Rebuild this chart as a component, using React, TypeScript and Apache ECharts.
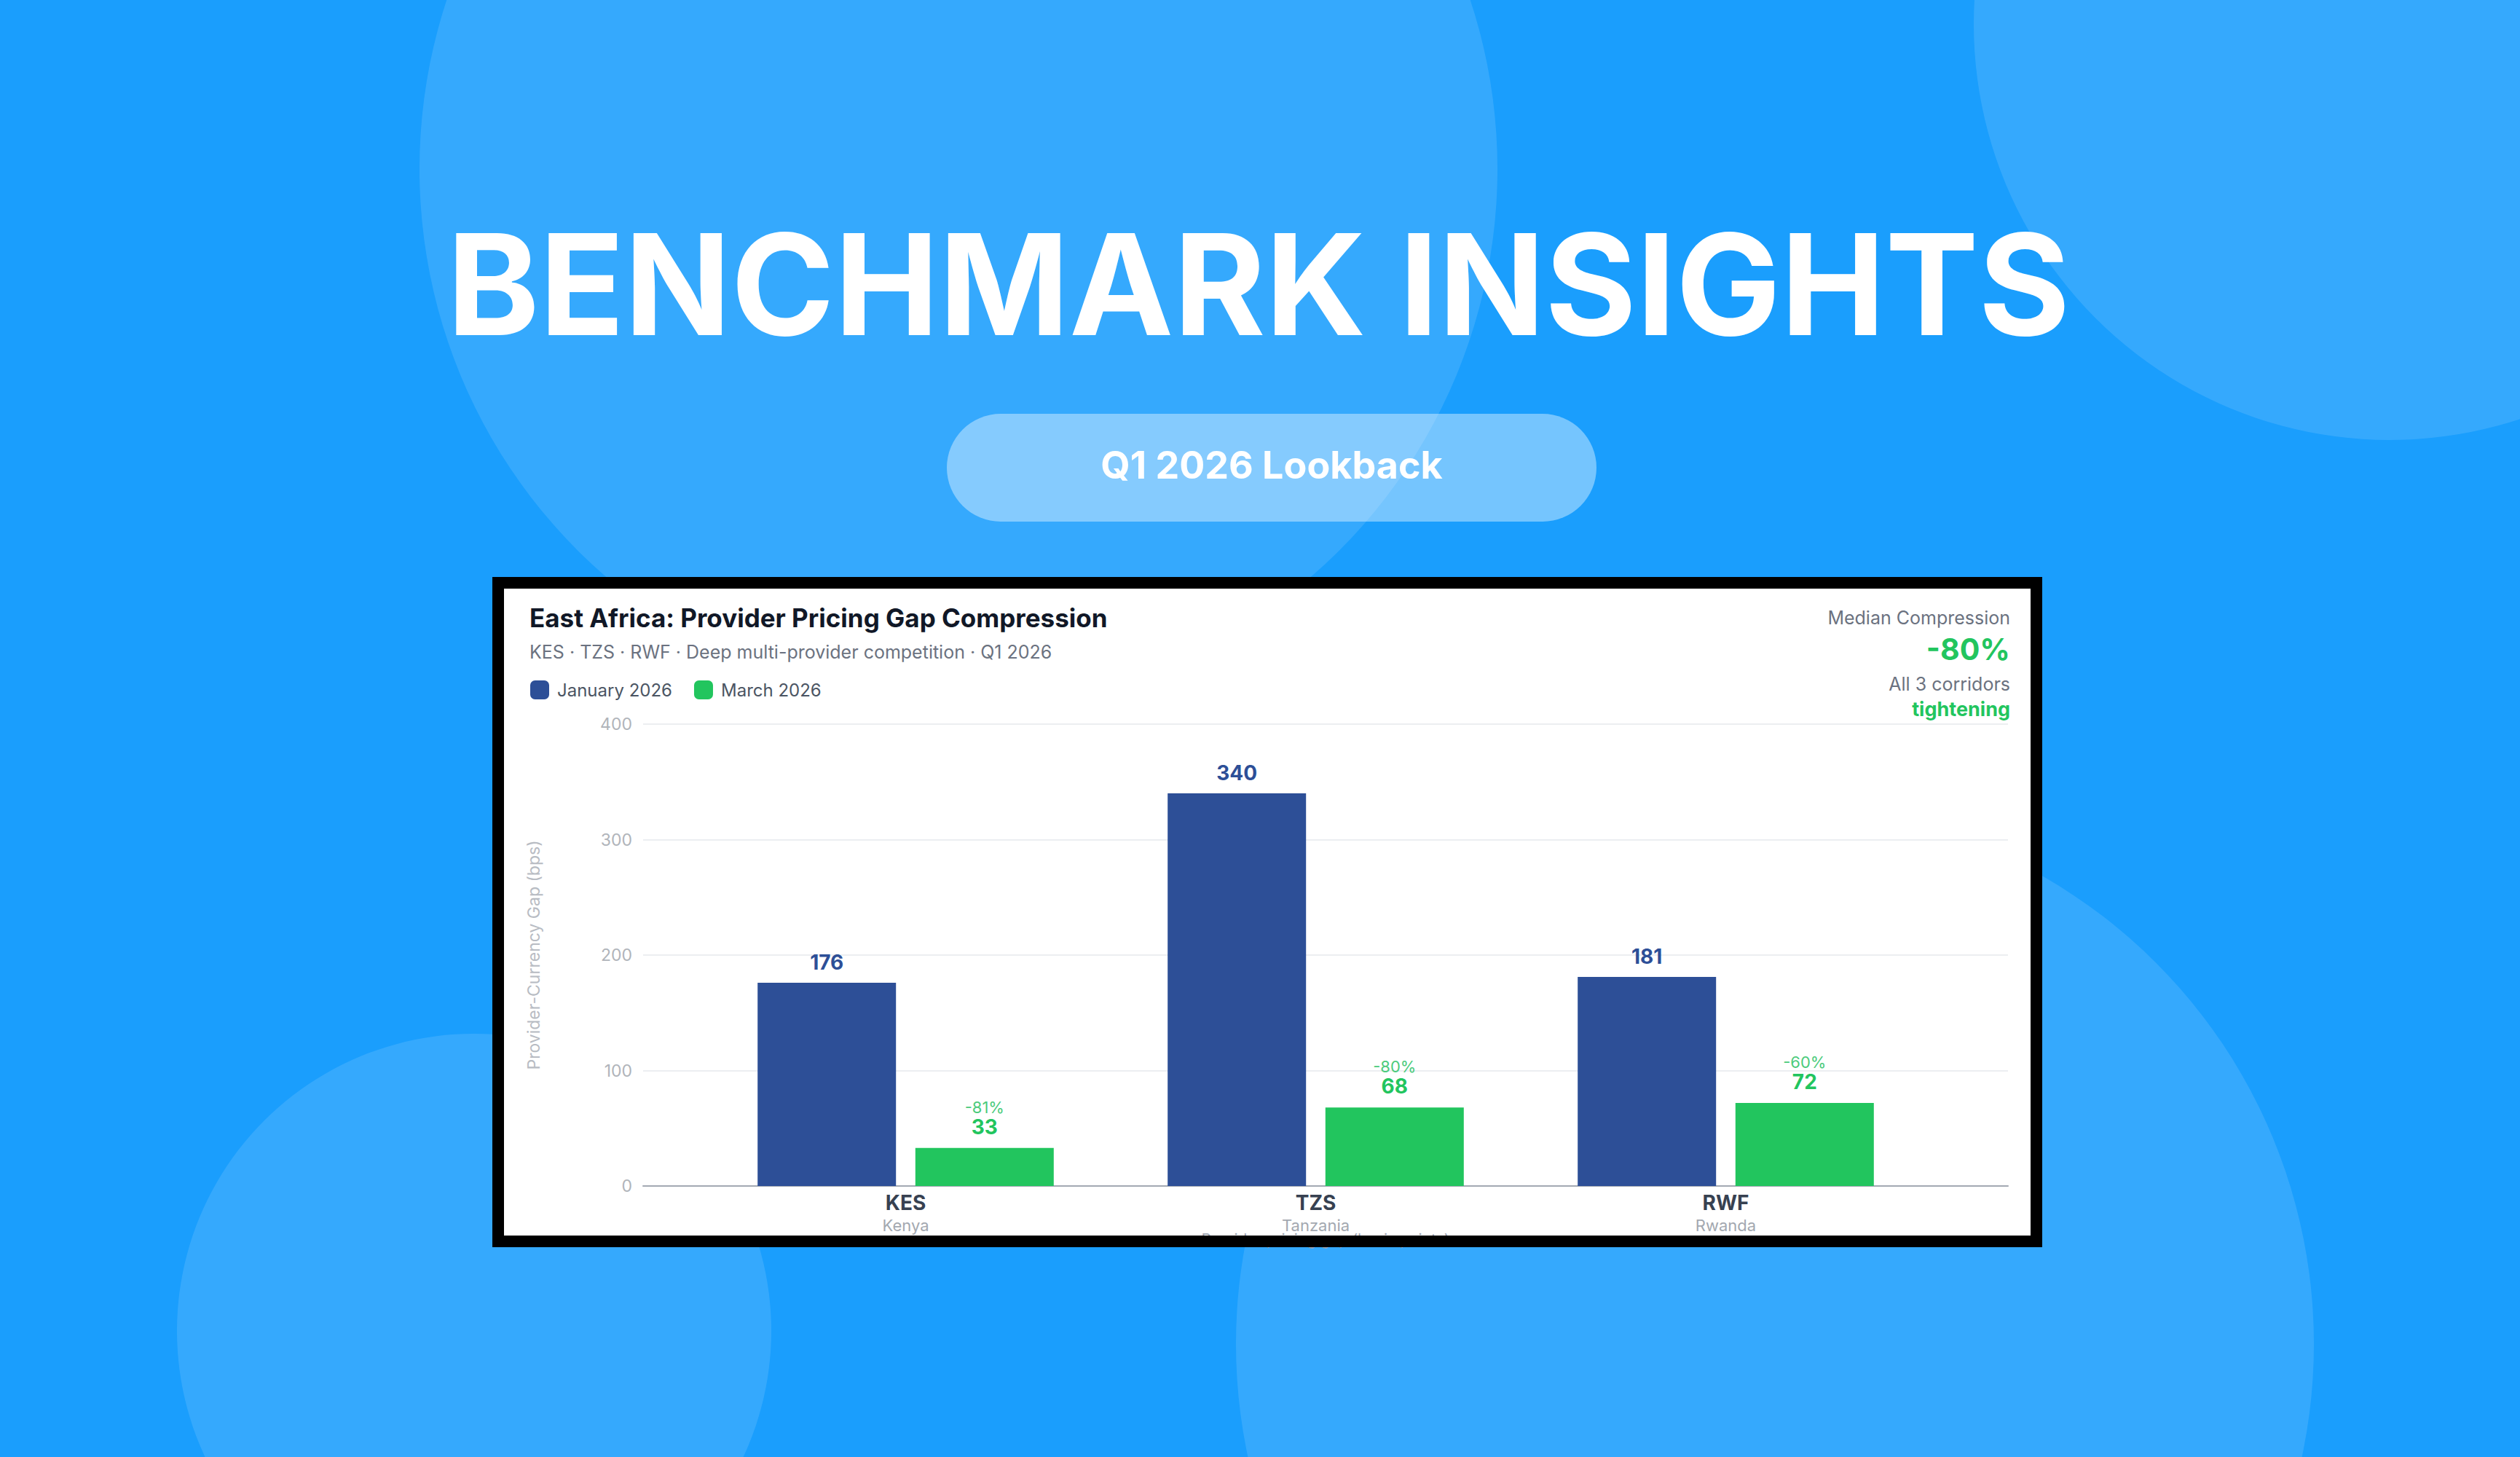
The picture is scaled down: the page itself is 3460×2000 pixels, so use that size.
import React, { useEffect, useRef } from 'react';
import * as echarts from 'echarts';

const categories = ['KES', 'TZS', 'RWF'];
const countries = ['Kenya', 'Tanzania', 'Rwanda'];
const seriesNames = ['January 2026', 'March 2026'];
const january = [176, 340, 181];
const march = [33, 68, 72];
const changeLabels = ['-81%', '-80%', '-60%'];
const yMin = 0;
const yMax = 400;
const yInterval = 100;
const medianCompression = '-80%';

const FONT = 'Inter, "Noto Sans", Roboto, sans-serif';
const BLUE = '#2d4f97';
const GREEN = '#22c55e';
const CIRCLE = 'rgba(255,255,255,0.12)';

export default function App() {
  const ref = useRef<HTMLDivElement>(null);
  useEffect(() => {
    if (!ref.current) return;
    const chart = echarts.init(ref.current, null, { renderer: 'svg' });
    const txt = (x: number, y: number, text: string, size: number, weight: number, fill: string, align: string) => ({
      type: 'text',
      x,
      y,
      z: 10,
      style: { text, fontSize: size, fontWeight: weight, fontFamily: FONT, fill, align, verticalAlign: 'middle' },
    });
    const option: any = {
      animation: false,
      backgroundColor: '#1a9efd',
      textStyle: { fontFamily: FONT },
      legend: {
        left: 728,
        top: 934,
        padding: 0,
        itemWidth: 26,
        itemHeight: 26,
        itemGap: 30,
        icon: 'roundRect',
        data: seriesNames,
        textStyle: { fontSize: 24, color: '#4b5563', fontFamily: FONT, padding: [0, 0, 0, 6] },
      },
      grid: [
        { left: 883, top: 994, width: 1874, height: 634 },
        { left: 962, top: 994, width: 1689, height: 634 },
      ],
      xAxis: [
        {
          gridIndex: 0,
          type: 'value',
          min: 0,
          max: 1,
          axisLine: { show: true, lineStyle: { color: '#a3a9b3', width: 2 } },
          axisTick: { show: false },
          axisLabel: { show: false },
          splitLine: { show: false },
          name: 'Provider pricing gap (basis points)',
          nameLocation: 'middle',
          nameGap: 63,
          nameTextStyle: { fontSize: 21, color: '#9ca3af', fontFamily: FONT },
        },
        {
          gridIndex: 1,
          type: 'category',
          data: categories,
          axisLine: { show: false },
          axisTick: { show: false },
          axisLabel: {
            margin: 7,
            formatter: (v: string, i: number) => `{code|${v}}\n{name|${countries[i]}}`,
            rich: {
              code: { fontSize: 28, fontWeight: 700, color: '#374151', lineHeight: 31, fontFamily: FONT },
              name: { fontSize: 22, color: '#a3a8b0', lineHeight: 31, fontFamily: FONT },
            },
          },
        },
      ],
      yAxis: [
        {
          gridIndex: 0,
          type: 'value',
          min: yMin,
          max: yMax,
          interval: yInterval,
          axisLine: { show: false },
          axisTick: { show: false },
          axisLabel: { fontSize: 23, color: '#b0b4ba', margin: 15, fontFamily: FONT },
          splitLine: { lineStyle: { color: '#eceef1', width: 2 } },
          name: 'Provider-Currency Gap (bps)',
          nameLocation: 'middle',
          nameGap: 139,
          nameTextStyle: { fontSize: 23, color: '#b8bcc3', fontFamily: FONT },
        },
        { gridIndex: 1, type: 'value', min: yMin, max: yMax, interval: yInterval, show: false },
      ],
      series: [
        {
          name: seriesNames[0],
          type: 'bar',
          xAxisIndex: 1,
          yAxisIndex: 1,
          data: january,
          barWidth: 190,
          barGap: '14%',
          itemStyle: { color: BLUE },
          label: { show: true, position: 'top', distance: 14, fontSize: 28, fontWeight: 700, color: BLUE, fontFamily: FONT },
        },
        {
          name: seriesNames[1],
          type: 'bar',
          xAxisIndex: 1,
          yAxisIndex: 1,
          data: march,
          barWidth: 190,
          barGap: '14%',
          itemStyle: { color: GREEN },
          label: {
            show: true,
            position: 'top',
            distance: 15,
            formatter: (p: any) => `{pct|${changeLabels[p.dataIndex]}}\n{val|${p.value}}`,
            rich: {
              pct: { fontSize: 22, color: '#4ccb7c', lineHeight: 26, align: 'center', fontFamily: FONT },
              val: { fontSize: 28, fontWeight: 700, color: GREEN, lineHeight: 28, align: 'center', fontFamily: FONT },
            },
          },
        },
      ],
      graphic: [
        { type: 'circle', z: -10, shape: { cx: 1316, cy: 232, r: 740 }, style: { fill: CIRCLE } },
        { type: 'circle', z: -10, shape: { cx: 3281, cy: 33, r: 571 }, style: { fill: CIRCLE } },
        { type: 'circle', z: -10, shape: { cx: 651, cy: 1827, r: 408 }, style: { fill: CIRCLE } },
        { type: 'circle', z: -10, shape: { cx: 2437, cy: 1845, r: 740 }, style: { fill: CIRCLE } },
        { type: 'rect', z: -4, shape: { x: 1300, y: 568, width: 892, height: 148, r: 74 }, style: { fill: 'rgba(255,255,255,0.4)' } },
        txt(1728, 390, 'BENCHMARK INSIGHTS', 192, 700, '#ffffff', 'center'),
        txt(1746, 638, 'Q1 2026 Lookback', 52, 700, '#ffffff', 'center'),
        { type: 'rect', z: -5, shape: { x: 692, y: 808, width: 2096, height: 888 }, style: { fill: '#ffffff' } },
        { type: 'rect', z: 100, shape: { x: 676, y: 792, width: 2128, height: 16 }, style: { fill: '#000000' } },
        { type: 'rect', z: 100, shape: { x: 676, y: 1696, width: 2128, height: 16 }, style: { fill: '#000000' } },
        { type: 'rect', z: 100, shape: { x: 676, y: 792, width: 16, height: 920 }, style: { fill: '#000000' } },
        { type: 'rect', z: 100, shape: { x: 2788, y: 792, width: 16, height: 920 }, style: { fill: '#000000' } },
        txt(727, 848, 'East Africa: Provider Pricing Gap Compression', 35, 700, '#111827', 'left'),
        txt(727, 895, 'KES · TZS · RWF · Deep multi-provider competition · Q1 2026', 25, 400, '#6b7280', 'left'),
        txt(2760, 848, 'Median Compression', 25, 400, '#6b7280', 'right'),
        txt(2760, 891, medianCompression, 41, 700, GREEN, 'right'),
        txt(2760, 939, 'All 3 corridors', 25, 400, '#6b7280', 'right'),
        txt(2760, 973, 'tightening', 27, 700, GREEN, 'right'),
      ],
    };
    chart.setOption(option);
    return () => chart.dispose();
  }, []);
  return <div ref={ref} style={{ position: 'absolute', left: 0, top: 0, width: 3460, height: 2000 }} />;
}
